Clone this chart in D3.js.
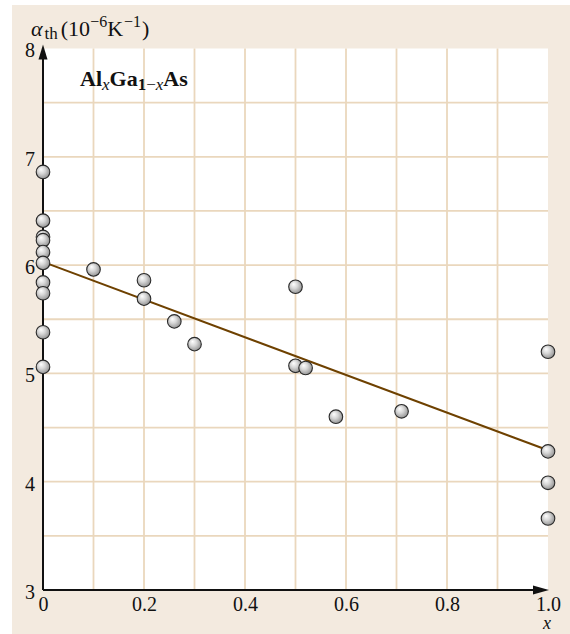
<!DOCTYPE html>
<html>
<head>
<meta charset="utf-8">
<script src="https://cdn.jsdelivr.net/npm/d3@7"></script>
<style>
  body { margin: 0; background: #fff; }
  text { font-family: "Liberation Serif", "Times New Roman", serif; fill: #111; }
</style>
</head>
<body>
<div id="vis"></div>
<script>
const FRAME_WIDTH = 570;
const FRAME_HEIGHT = 634;
const MARGINS = {left: 43, right: 22, top: 48.5, bottom: 44};

// composition x and alpha_th values
const xVals = [0, 0, 0, 0, 0, 0, 0, 0, 0, 0,
               0.10, 0.20, 0.20, 0.26, 0.30, 0.50, 0.50, 0.52, 0.58, 0.71,
               1.0, 1.0, 1.0, 1.0];
const alphaVals = [6.86, 6.41, 6.26, 6.23, 6.12, 6.02, 5.84, 5.74, 5.38, 5.06,
                   5.96, 5.86, 5.69, 5.48, 5.27, 5.80, 5.07, 5.05, 4.60, 4.65,
                   5.20, 4.28, 3.99, 3.66];
// fitted line end points
const fitX = [0, 1.0];
const fitY = [6.03, 4.29];

const xTicks = [0, 0.2, 0.4, 0.6, 0.8, 1.0];
const xTickLabels = ['0', '0.2', '0.4', '0.6', '0.8', '1.0'];
const yTicks = [3, 4, 5, 6, 7, 8];
const xGrid = [0.1, 0.2, 0.3, 0.4, 0.5, 0.6, 0.7, 0.8, 0.9];
const yGrid = [3.5, 4, 4.5, 5, 5.5, 6, 6.5, 7, 7.5];

const svg = d3.select('#vis')
  .append('svg')
    .attr('width', FRAME_WIDTH)
    .attr('height', FRAME_HEIGHT);

// gradient for the little spheres
const grad = svg.append('defs').append('radialGradient')
    .attr('id', 'ball')
    .attr('cx', '45%').attr('cy', '45%')
    .attr('fx', '35%').attr('fy', '30%')
    .attr('r', '60%');
grad.append('stop').attr('offset', '0%').attr('stop-color', '#ffffff');
grad.append('stop').attr('offset', '45%').attr('stop-color', '#d6d6d6');
grad.append('stop').attr('offset', '100%').attr('stop-color', '#8c8c8c');

// cream panel
svg.append('rect')
    .attr('x', 12).attr('y', 5)
    .attr('width', FRAME_WIDTH - 12).attr('height', FRAME_HEIGHT - 5)
    .attr('fill', '#f3eadf');

const X_SCALE = d3.scaleLinear().domain([0, 1]).range([MARGINS.left, MARGINS.left + 505]);
const Y_SCALE = d3.scaleLinear().domain([3, 8]).range([590, MARGINS.top]);

// white plot area
svg.append('rect')
    .attr('x', X_SCALE(0)).attr('y', Y_SCALE(8))
    .attr('width', X_SCALE(1) - X_SCALE(0))
    .attr('height', Y_SCALE(3) - Y_SCALE(8))
    .attr('fill', '#ffffff');

// grid
svg.append('g').selectAll('line')
  .data(xGrid).enter().append('line')
    .attr('x1', d => X_SCALE(d)).attr('x2', d => X_SCALE(d))
    .attr('y1', Y_SCALE(8)).attr('y2', Y_SCALE(3))
    .attr('stroke', '#ead7bd').attr('stroke-width', 1.8);
svg.append('g').selectAll('line')
  .data(yGrid).enter().append('line')
    .attr('x1', X_SCALE(0)).attr('x2', X_SCALE(1))
    .attr('y1', d => Y_SCALE(d)).attr('y2', d => Y_SCALE(d))
    .attr('stroke', '#ead7bd').attr('stroke-width', 1.8);

// tick labels through d3 axes
const xAxis = svg.append('g')
    .attr('transform', 'translate(0,' + Y_SCALE(3) + ')')
    .call(d3.axisBottom(X_SCALE).tickValues(xTicks)
      .tickFormat((d, i) => xTickLabels[i]).tickSize(0).tickPadding(7));
const yAxis = svg.append('g')
    .attr('transform', 'translate(' + X_SCALE(0) + ',0)')
    .call(d3.axisLeft(Y_SCALE).tickValues(yTicks)
      .tickFormat(d3.format('d')).tickSize(0).tickPadding(8));
[xAxis, yAxis].forEach(g => {
  g.select('.domain').remove();
  g.selectAll('text')
    .attr('font-family', '"Liberation Serif", serif')
    .attr('font-size', 20)
    .attr('fill', '#111');
});
yAxis.selectAll('text').attr('dy', '0.42em');

// axis lines with arrows
svg.append('line')
    .attr('x1', X_SCALE(0)).attr('x2', X_SCALE(0))
    .attr('y1', Y_SCALE(3)).attr('y2', Y_SCALE(8) + 6)
    .attr('stroke', '#111').attr('stroke-width', 2);
svg.append('line')
    .attr('x1', X_SCALE(0)).attr('x2', X_SCALE(1) - 6)
    .attr('y1', Y_SCALE(3)).attr('y2', Y_SCALE(3))
    .attr('stroke', '#111').attr('stroke-width', 2);
svg.append('path')
    .attr('d', d3.line()([[X_SCALE(0), Y_SCALE(8) - 4], [X_SCALE(0) - 4.5, Y_SCALE(8) + 11],
                          [X_SCALE(0) + 4.5, Y_SCALE(8) + 11]]) + 'Z')
    .attr('fill', '#111');
svg.append('path')
    .attr('d', d3.line()([[X_SCALE(1) + 1, Y_SCALE(3)], [X_SCALE(1) - 15, Y_SCALE(3) - 4.5],
                          [X_SCALE(1) - 15, Y_SCALE(3) + 4.5]]) + 'Z')
    .attr('fill', '#111');

// fitted line
svg.append('path')
    .datum(fitX.map((d, i) => [d, fitY[i]]))
    .attr('d', d3.line().x(d => X_SCALE(d[0])).y(d => Y_SCALE(d[1])))
    .attr('fill', 'none')
    .attr('stroke', '#6e4100')
    .attr('stroke-width', 2);

// points
svg.append('g').selectAll('circle')
  .data(xVals.map((d, i) => [d, alphaVals[i]]))
  .enter().append('circle')
    .attr('cx', d => X_SCALE(d[0]))
    .attr('cy', d => Y_SCALE(d[1]))
    .attr('r', 6.8)
    .attr('fill', 'url(#ball)')
    .attr('stroke', '#2a2a2a')
    .attr('stroke-width', 1.1);

// axis titles
const yTitle = svg.append('text').attr('x', 31).attr('y', 36).attr('font-size', 22);
yTitle.append('tspan').attr('font-style', 'italic').text('α');
yTitle.append('tspan').attr('font-size', 17).attr('dy', 3).attr('dx', 2).text('th');
yTitle.append('tspan').attr('dy', -3).attr('dx', 3).text('(10');
yTitle.append('tspan').attr('font-size', 16).attr('dy', -9).text('−6');
yTitle.append('tspan').attr('dy', 9).text('K');
yTitle.append('tspan').attr('font-size', 16).attr('dy', -9).attr('dx', 1).text('−1');
yTitle.append('tspan').attr('dy', 9).attr('dx', 1).text(')');

svg.append('text')
    .attr('x', X_SCALE(1) - 1).attr('y', 629)
    .attr('text-anchor', 'middle')
    .attr('font-size', 18).attr('font-style', 'italic')
    .text('x');

// compound label
const comp = svg.append('text').attr('x', 80).attr('y', 86)
    .attr('font-size', 22).attr('font-weight', 'bold');
comp.append('tspan').text('Al');
comp.append('tspan').attr('font-size', 17).attr('font-style', 'italic')
    .attr('font-weight', 'normal').attr('dy', 4).text('x');
comp.append('tspan').attr('dy', -4).text('Ga');
comp.append('tspan').attr('font-size', 17).attr('dy', 4).text('1');
comp.append('tspan').attr('font-size', 17).attr('font-weight', 'normal').text('−');
comp.append('tspan').attr('font-size', 17).attr('font-style', 'italic')
    .attr('font-weight', 'normal').text('x');
comp.append('tspan').attr('dy', -4).text('As');
</script>
</body>
</html>
